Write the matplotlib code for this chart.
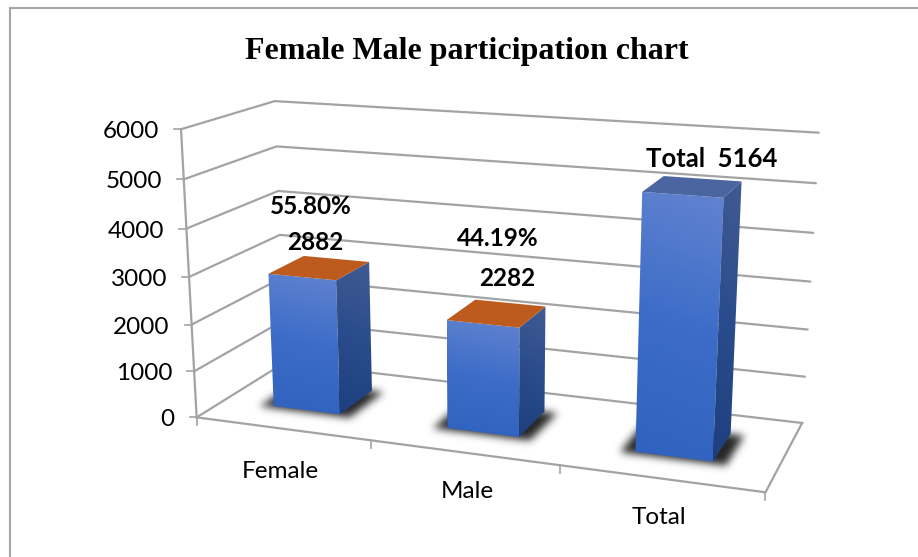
import numpy as np
import matplotlib
matplotlib.use('Agg')
import matplotlib.pyplot as plt
from matplotlib.colors import LinearSegmentedColormap
from matplotlib.patches import Polygon
from matplotlib.path import Path

categories = ['Female', 'Male', 'Total']
values = [2882, 2282, 5164]
top_colors = ['#bd5b1f', '#bd5b1f', '#4a659f']
y_ticks = [0, 1000, 2000, 3000, 4000, 5000, 6000]
bar_labels = [('55.80%', 311, 207, 17.5), ('2882', 315, 242, 17.5), ('44.19%', 498, 238, 17.5),
              ('2282', 507, 278, 17.5), ('Total  5164', 712, 159, 18.5)]
cat_label_pos = [(280, 471.5), (467, 492), (659, 517.5)]

# corners of the 3d box on the image: (category pos, depth, value) -> pixel
anchors = [
    (0, 0, 0, 197, 416), (0, 0, 6000, 180, 128),
    (0, 1, 0, 284, 364), (0, 1, 6000, 276, 102),
    (3, 1, 0, 802, 423), (3, 1, 6000, 818, 130),
    (3, 0, 0, 766, 492), (3, 0, 6000, 782, 172),
]


def fit_camera(pts):
    rows = []
    for u, d, v, px, py in pts:
        w = [u, d, v / 1000, 1]
        rows.append(w + [0, 0, 0, 0] + [-px * c for c in w])
        rows.append([0, 0, 0, 0] + w + [-py * c for c in w])
    return np.linalg.svd(np.array(rows))[2][-1].reshape(3, 4)


cam = fit_camera(anchors)


def project(u, d, v):
    p = cam @ np.array([u, d, v / 1000, 1])
    return p[0] / p[2], p[1] / p[2]


def gradient_face(ax, corners, stops, z):
    cmap = LinearSegmentedColormap.from_list('f', stops)
    pts = np.array(corners)
    x0, y0 = pts.min(axis=0)
    x1, y1 = pts.max(axis=0)
    yy, xx = np.mgrid[0:1:100j, 0:1:100j]
    im = ax.imshow(yy + 0.12 * (1 - xx), cmap=cmap, extent=[x0, x1, y1, y0], aspect='auto',
                   zorder=z, vmin=0, vmax=1.12)
    im.set_clip_path(Polygon(corners, closed=True, transform=ax.transData))


def soft_shadow(ax, foot, z, sigma=4.0, strength=0.85):
    # rasterise the footprint and blur it
    pts = np.array(foot)
    x0, y0 = np.floor(pts.min(axis=0)) - 16
    x1, y1 = np.ceil(pts.max(axis=0)) + 16
    xs = np.arange(x0, x1) + 0.5
    ys = np.arange(y0, y1) + 0.5
    gx, gy = np.meshgrid(xs, ys)
    mask = Path(foot).contains_points(np.c_[gx.ravel(), gy.ravel()]).reshape(gx.shape).astype(float)
    r = np.arange(-12, 13)
    kernel = np.exp(-r ** 2 / (2 * sigma ** 2))
    kernel /= kernel.sum()
    mask = np.apply_along_axis(lambda c: np.convolve(c, kernel, mode='same'), 0, mask)
    mask = np.apply_along_axis(lambda c: np.convolve(c, kernel, mode='same'), 1, mask)
    rgba = np.zeros(mask.shape + (4,))
    rgba[..., 3] = np.clip(mask * strength, 0, 1)
    ax.imshow(rgba, extent=[x0, x1, y1, y0], aspect='auto', zorder=z, interpolation='bilinear')


fig = plt.figure(figsize=(9.18, 5.57), dpi=100)
ax = fig.add_axes([0, 0, 1, 1])
ax.axis('off')
plt.rcParams['font.family'] = ['Lato', 'DejaVu Sans']

# chart border, cut off on the right and at the bottom
ax.plot([10, 10, 918], [557, 8, 8], color='#a6a6a6', lw=1.5, zorder=1, solid_joinstyle='miter')

grid = '#a3a3a3'
for t in y_ticks:
    pts = [project(0, 0, t), project(0, 1, t), project(3, 1, t)]
    ax.plot(*zip(*pts), color=grid, lw=1.6, zorder=2, solid_joinstyle='miter')
    x, y = project(0, 0, t)
    ax.plot([x - 7, x], [y, y], color=grid, lw=1.2, zorder=2)
    ax.text(x - 22, y + 2.5, str(t), ha='right', va='center', fontsize=17.5, color='black')

ax.plot(*zip(project(0, 0, 0), project(0, 0, 6000)), color=grid, lw=1.6, zorder=2)
ax.plot(*zip(project(0, 0, 0), project(3, 0, 0), project(3, 1, 0)), color=grid, lw=1.6, zorder=2)
for k in range(4):
    x, y = project(k, 0, 0)
    ax.plot([x, x], [y, y + 8], color=grid, lw=1.2, zorder=2)

half = 0.195
d0, d1 = 0.30, 0.71
for k, val in enumerate(values):
    u0, u1 = k + 0.49 - half, k + 0.49 + half
    z = 3 + k

    foot = [project(u0 - 0.07, d0 - 0.03, 0), project(u1 + 0.07, d0 - 0.03, 0),
            project(u1 + 0.07, d1, 0), project(u0 - 0.07, d1, 0)]
    soft_shadow(ax, foot, z)

    front = [project(u0, d0, val), project(u1, d0, val), project(u1, d0, 0), project(u0, d0, 0)]
    side = [project(u1, d0, val), project(u1, d1, val), project(u1, d1, 0), project(u1, d0, 0)]
    top = [project(u0, d0, val), project(u1, d0, val), project(u1, d1, val), project(u0, d1, val)]
    gradient_face(ax, front, ['#6283d0', '#3c6cc8', '#2f62be'], z + 0.1)
    gradient_face(ax, side, ['#415b92', '#2a4c8c', '#1d3f7d'], z + 0.1)
    ax.add_patch(Polygon(top, closed=True, fc=top_colors[k], ec='none', zorder=z + 0.2))

for name, (x, y) in zip(categories, cat_label_pos):
    ax.text(x, y, name, ha='center', va='center', fontsize=17.5, color='black')
for s, x, y, size in bar_labels:
    ax.text(x, y, s, ha='center', va='center', fontsize=size, fontweight='bold', color='black', zorder=10)

ax.text(466.5, 52, 'Female Male participation chart', ha='center', va='center', fontsize=23,
        fontweight='bold', family=['Liberation Serif'], color='black')

ax.set_xlim(0, 918)
ax.set_ylim(557, 0)
fig.savefig('out.png', dpi=100)
